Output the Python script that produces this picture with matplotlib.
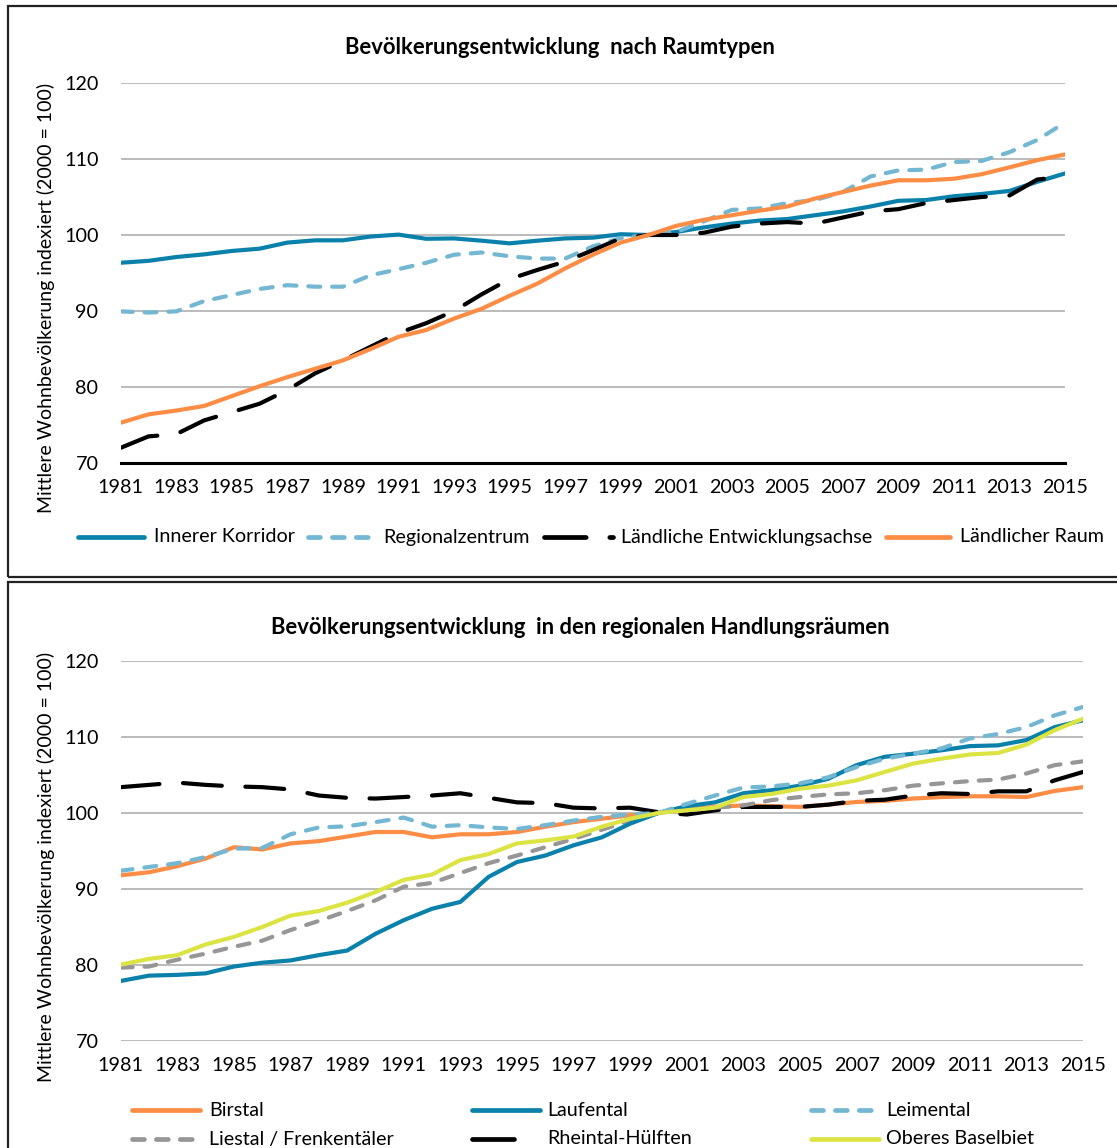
import matplotlib
matplotlib.use("Agg")
import matplotlib.pyplot as plt
from matplotlib.lines import Line2D
from matplotlib.patches import Rectangle

plt.rcParams['font.family'] = ['Lato', 'DejaVu Sans']
plt.rcParams['lines.scale_dashes'] = False

years = list(range(1981, 2016))

# --- Chart 1: Raumtypen ---
innerer_korridor = [96.35, 96.6, 97.1, 97.45, 97.9, 98.2, 99.0, 99.3, 99.3, 99.8, 100.05, 99.5,
                    99.55, 99.25, 98.9, 99.25, 99.55, 99.65, 100.1, 100.0, 100.4, 101.0, 101.5,
                    101.9, 102.1, 102.6, 103.1, 103.75, 104.5, 104.6, 105.1, 105.4, 105.8, 107.0, 108.1]
regionalzentrum = [89.95, 89.8, 89.95, 91.3, 92.1, 92.9, 93.4, 93.2, 93.2, 94.7, 95.5, 96.35,
                   97.4, 97.7, 97.2, 96.9, 96.9, 98.5, 99.6, 100.0, 100.4, 101.8, 103.3,
                   103.5, 104.2, 104.6, 105.65, 107.7, 108.5, 108.6, 109.6, 109.75, 110.9, 112.5, 114.8]
laendliche_achse = [72.0, 73.5, 73.8, 75.6, 76.7, 77.8, 79.6, 81.8, 83.5, 85.3, 87.1, 88.4,
                    90.0, 92.2, 94.2, 95.4, 96.5, 98.0, 99.55, 100.0, 100.0, 100.3, 101.1,
                    101.5, 101.7, 101.5, 102.3, 103.1, 103.4, 104.2, 104.6, 105.0, 105.2, 107.3, 107.7]
laendlicher_raum = [75.3, 76.4, 76.9, 77.5, 78.8, 80.1, 81.3, 82.4, 83.5, 85.0, 86.6, 87.5,
                    89.0, 90.3, 92.0, 93.6, 95.6, 97.4, 99.0, 100.0, 101.2, 102.0, 102.6,
                    103.2, 103.75, 104.8, 105.65, 106.5, 107.2, 107.2, 107.4, 108.0, 108.9, 109.85, 110.6]

# --- Chart 2: regionale Handlungsräume ---
birstal = [91.8, 92.2, 93.0, 94.0, 95.5, 95.2, 96.0, 96.3, 96.9, 97.5, 97.5, 96.8,
           97.2, 97.2, 97.5, 98.2, 98.8, 99.25, 99.7, 100.0, 100.5, 100.8, 101.0,
           100.9, 100.8, 101.1, 101.45, 101.6, 101.9, 102.1, 102.2, 102.2, 102.1, 102.9, 103.4]
laufental = [77.9, 78.6, 78.7, 78.9, 79.8, 80.3, 80.6, 81.3, 81.9, 84.1, 85.9, 87.4,
             88.3, 91.6, 93.55, 94.4, 95.75, 96.8, 98.6, 100.0, 100.9, 101.4, 102.6,
             103.0, 103.6, 104.5, 106.3, 107.4, 107.8, 108.25, 108.8, 108.9, 109.6, 111.3, 112.2]
leimental = [92.4, 92.9, 93.4, 94.2, 95.3, 95.4, 97.2, 98.1, 98.25, 98.8, 99.4, 98.2,
             98.4, 98.1, 97.9, 98.4, 99.0, 99.5, 99.8, 100.0, 101.2, 102.3, 103.35,
             103.5, 103.9, 104.7, 106.05, 107.15, 107.8, 108.5, 109.8, 110.4, 111.3, 112.85, 113.95]
liestal = [79.65, 79.8, 80.7, 81.5, 82.4, 83.2, 84.6, 85.8, 87.1, 88.5, 90.3, 90.8,
           92.1, 93.4, 94.4, 95.5, 96.6, 97.8, 99.0, 100.0, 100.35, 100.7, 101.0,
           101.7, 102.1, 102.45, 102.6, 103.0, 103.6, 103.9, 104.2, 104.4, 105.2, 106.3, 106.8]
rheintal = [103.4, 103.7, 104.0, 103.7, 103.5, 103.4, 103.1, 102.3, 102.0, 101.9, 102.1, 102.3,
            102.6, 102.0, 101.4, 101.3, 100.7, 100.6, 100.7, 100.1, 99.8, 100.35, 100.8,
            100.8, 100.8, 101.1, 101.6, 101.75, 102.3, 102.6, 102.5, 102.85, 102.85, 104.3, 105.4]
oberes_baselbiet = [80.05, 80.8, 81.3, 82.7, 83.7, 85.0, 86.5, 87.1, 88.2, 89.6, 91.2, 91.9,
                    93.8, 94.6, 96.0, 96.4, 96.9, 98.2, 99.25, 100.0, 100.35, 100.7, 102.1,
                    102.5, 103.2, 103.6, 104.3, 105.4, 106.5, 107.15, 107.7, 107.9, 109.0, 110.9, 112.4]

xtick_years = list(range(1981, 2016, 2))
yticks = [70, 80, 90, 100, 110, 120]

title1 = "Bevölkerungsentwicklung  nach Raumtypen"
title2 = "Bevölkerungsentwicklung  in den regionalen Handlungsräumen"
ylabel = "Mittlere Wohnbevölkerung indexiert (2000 = 100)"

C_DBLUE = '#0A81AB'
C_LBLUE = '#74B7D3'
C_BLACK = '#000000'
C_ORANGE = '#FD8D45'
C_GRAY = '#969696'
C_YELLOW = '#DCE443'

LW = 3.0
SHORT = (0, (8.6, 8.6))
LONG = (0, (28, 17))

W, H = 1117, 1148
fig = plt.figure(figsize=(W / 100, H / 100), dpi=100)


def fx(px):
    return px / W


def fy(py):
    return 1 - py / H


def make_axes(x0, x1, ytop, ybot):
    ax = fig.add_axes([fx(x0), fy(ybot), fx(x1) - fx(x0), fy(ytop) - fy(ybot)])
    ax.set_xlim(1981, 2015)
    ax.set_ylim(70, 120)
    ax.set_yticks(yticks)
    ax.set_xticks(xtick_years)
    ax.set_xticklabels([str(y) for y in xtick_years])
    ax.tick_params(length=0, labelsize=14.2, pad=11.5)
    ax.tick_params(axis='y', pad=16)
    ax.yaxis.grid(True, color='#BBBBBB', lw=1.4)
    ax.set_axisbelow(True)
    for s in ax.spines.values():
        s.set_visible(False)
    return ax


# Frames
fig.add_artist(Rectangle((fx(8), fy(577)), fx(1200) - fx(8), fy(6) - fy(577),
                         transform=fig.transFigure, fill=False, lw=1.6, ec='#222222'))
fig.add_artist(Rectangle((fx(8), fy(1200)), fx(1200) - fx(8), fy(582) - fy(1200),
                         transform=fig.transFigure, fill=False, lw=1.6, ec='#222222'))

# ---------- Top chart ----------
ax1 = make_axes(120.7, 1065, 83, 463)
ax1.spines['bottom'].set_visible(True)
ax1.spines['bottom'].set_color('black')
ax1.spines['bottom'].set_linewidth(2.2)
ax1.plot(years, laendlicher_raum, color=C_ORANGE, lw=LW, solid_capstyle='round', zorder=3)
ax1.plot(years, innerer_korridor, color=C_DBLUE, lw=LW, solid_capstyle='round', zorder=2)
ax1.plot(years, regionalzentrum, color=C_LBLUE, lw=LW, ls=SHORT, dash_capstyle='round', zorder=2)
ax1.plot(years, laendliche_achse, color=C_BLACK, lw=LW, ls=LONG, dash_capstyle='round', zorder=2)
fig.text(fx(560), fy(48), title1, ha='center', va='center', fontsize=15.8, fontweight='bold')
fig.text(fx(46), fy(298), ylabel, ha='center', va='center', rotation=90, fontsize=14)

# ---------- Bottom chart ----------
ax2 = make_axes(120.7, 1083, 661, 1041)
ax2.plot(years, birstal, color=C_ORANGE, lw=LW, solid_capstyle='round', zorder=2)
ax2.plot(years, rheintal, color=C_BLACK, lw=LW, ls=LONG, dash_capstyle='round', zorder=2)
ax2.plot(years, liestal, color=C_GRAY, lw=LW, ls=SHORT, dash_capstyle='round', zorder=2)
ax2.plot(years, laufental, color=C_DBLUE, lw=LW, solid_capstyle='round', zorder=2)
ax2.plot(years, leimental, color=C_LBLUE, lw=LW, ls=SHORT, dash_capstyle='round', zorder=3)
ax2.plot(years, oberes_baselbiet, color=C_YELLOW, lw=LW, solid_capstyle='round', zorder=3)
fig.text(fx(580), fy(627), title2, ha='center', va='center', fontsize=15.8, fontweight='bold')
fig.text(fx(46), fy(867), ylabel, ha='center', va='center', rotation=90, fontsize=14)


def legend_entry(x0, x1, y, tx, color, ls, label):
    kw = dict(color=color, lw=3.4, transform=fig.transFigure)
    if ls == '-':
        kw.update(solid_capstyle='round')
    else:
        kw.update(linestyle=ls, dash_capstyle='round')
    fig.add_artist(Line2D([fx(x0), fx(x1)], [fy(y), fy(y)], **kw))
    fig.text(fx(tx), fy(y), label, ha='left', va='center', fontsize=14.2)


# top legend
legend_entry(78, 144, 537, 154, C_DBLUE, '-', "Innerer Korridor")
legend_entry(308, 370, 537, 383, C_LBLUE, (0, (8.6, 8.6)), "Regionalzentrum")
legend_entry(544, 613, 537, 621, C_BLACK, (0, (30, 17)), "Ländliche Entwicklungsachse")
legend_entry(886, 950, 537, 960, C_ORANGE, '-', "Ländlicher Raum")

# bottom legend
legend_entry(132, 200, 1110, 209, C_ORANGE, '-', "Birstal")
legend_entry(472, 540, 1110, 547, C_DBLUE, '-', "Laufental")
legend_entry(811, 872, 1110, 886, C_LBLUE, (0, (8.6, 8.6)), "Leimental")
legend_entry(132, 194, 1139, 209, C_GRAY, (0, (8.6, 8.6)), "Liestal / Frenkentäler")
legend_entry(472, 514, 1139, 547, C_BLACK, '-', "Rheintal-Hülften")
legend_entry(811, 879, 1139, 886, C_YELLOW, '-', "Oberes Baselbiet")

fig.savefig("out.png", dpi=100)
